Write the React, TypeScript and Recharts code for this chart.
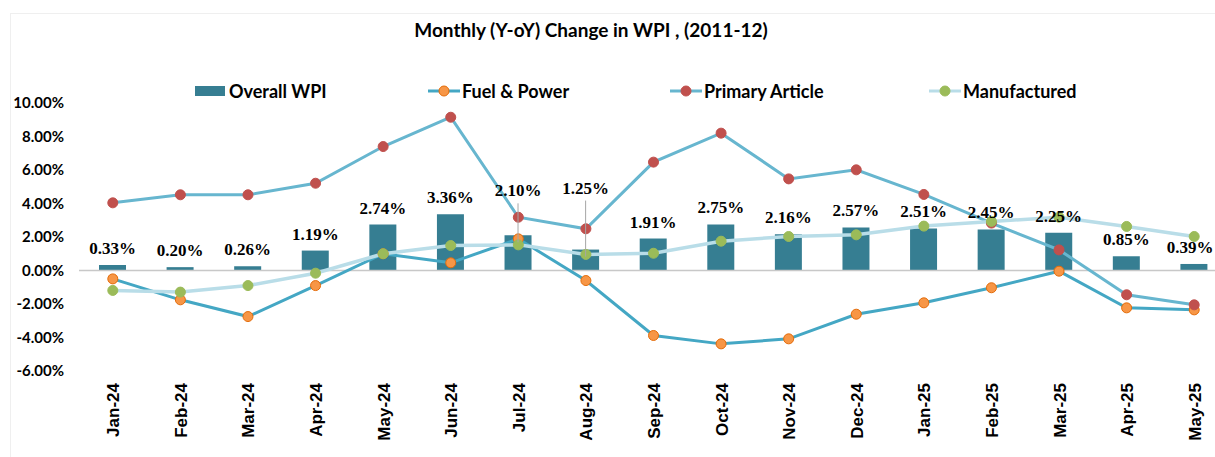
import { Bar, ComposedChart, LabelList, Line, ReferenceLine, XAxis, YAxis } from "recharts";

const months = [
    "Jan-24", "Feb-24", "Mar-24", "Apr-24", "May-24", "Jun-24", "Jul-24", "Aug-24", "Sep-24",
    "Oct-24", "Nov-24", "Dec-24", "Jan-25", "Feb-25", "Mar-25", "Apr-25", "May-25",
];
const overallWpi = [0.33, 0.20, 0.26, 1.19, 2.74, 3.36, 2.10, 1.25, 1.91, 2.75, 2.16, 2.57, 2.51, 2.45, 2.25, 0.85, 0.39];
const fuelPower = [-0.50, -1.75, -2.75, -0.90, 1.00, 0.46, 1.89, -0.60, -3.88, -4.38, -4.08, -2.61, -1.93, -1.03, -0.04, -2.23, -2.35];
const primaryArticle = [4.04, 4.52, 4.52, 5.21, 7.40, 9.15, 3.18, 2.49, 6.47, 8.20, 5.47, 6.01, 4.54, 2.83, 1.23, -1.45, -2.05];
const manufactured = [-1.19, -1.29, -0.90, -0.16, 1.00, 1.49, 1.53, 0.96, 1.03, 1.75, 2.03, 2.13, 2.65, 2.93, 3.18, 2.63, 2.03];
const yTicks = [-6, -4, -2, 0, 2, 4, 6, 8, 10];

const BAR_COLOR = "#367E92";
const FUEL_COLOR = "#44A7C4";
const PRIMARY_COLOR = "#67B6CF";
const MFG_COLOR = "#B9DDE8";

const SANS = "Lato, 'Noto Sans', sans-serif";
const VISIBLE_WIDTH = 1215;

const rows = months.map((month, i) => ({
    month,
    overall: overallWpi[i],
    fuel: fuelPower[i],
    primary: primaryArticle[i],
    mfg: manufactured[i],
}));

// a couple of labels in the original are pulled up with a leader line
const labelLift: Record<number, number> = { 6: 28, 7: 45 };

const WpiLabel = (props: any) => {
    const { x, y, width, value, index } = props;
    const cx = Number(x) + Number(width) / 2;
    const top = Number(y);
    const lift = labelLift[index] ?? 0;
    const base = top - 11 - lift;
    // keep the last label inside the visible area
    const tx = Math.min(cx, VISIBLE_WIDTH - 25);
    return <g>
        {lift > 0 && <line x1={cx} x2={cx} y1={base + 7} y2={top + 7} stroke="#A6A6A6" strokeWidth={1} />}
        <text x={tx} y={base} textAnchor="middle" fontFamily="'Liberation Serif', serif" fontWeight="bold" fontSize={17} fill="#000">
            {Number(value).toFixed(2)}%
        </text>
    </g>;
};

const MonthTick = (props: any) => {
    const { x, y, payload } = props;
    return <g transform={`translate(${x + 1},${y + 12}) rotate(-90)`}>
        <text x={0} y={0} textAnchor="end" dominantBaseline="central" fontFamily="'Liberation Sans', Arial, sans-serif" fontWeight="bold" fontSize={17} fill="#000">
            {payload.value}
        </text>
    </g>;
};

const legendItems = [
    { name: "Overall WPI", kind: "bar", color: BAR_COLOR, left: 195, textLeft: 229 },
    { name: "Fuel & Power", kind: "line", color: FUEL_COLOR, marker: "#F79646", markerStroke: "#E46C0A", left: 428, textLeft: 462 },
    { name: "Primary Article", kind: "line", color: PRIMARY_COLOR, marker: "#C0504D", markerStroke: "#C0504D", left: 670, textLeft: 704 },
    { name: "Manufactured", kind: "line", color: MFG_COLOR, marker: "#9BBB59", markerStroke: "#9BBB59", left: 929, textLeft: 963 },
];

const ChartLegend = () => <div style={{ position: "absolute", top: 80, left: 0, width: VISIBLE_WIDTH, height: 24 }}>
    {legendItems.map((item) => <div key={item.name}>
        {item.kind === "bar"
            ? <div style={{ position: "absolute", left: item.left, top: 6, width: 30, height: 10, background: item.color }} />
            : <svg style={{ position: "absolute", left: item.left, top: 0 }} width={32} height={22}>
                <line x1={0} x2={32} y1={11} y2={11} stroke={item.color} strokeWidth={3} />
                <circle cx={16} cy={11} r={5} fill={item.marker} stroke={item.markerStroke} strokeWidth={1} />
            </svg>}
        <div style={{ position: "absolute", left: item.textLeft, top: 0, fontFamily: SANS, fontWeight: 700, fontSize: 18, lineHeight: "22px", color: "#000", whiteSpace: "nowrap" }}>
            {item.name}
        </div>
    </div>)}
</div>;

const dot = (fill: string, stroke: string) => ({ r: 5, fill, stroke, strokeWidth: 1 });

const App = () => {
    return <div style={{ position: "absolute", left: 0, top: 0, width: VISIBLE_WIDTH, height: 457, overflow: "hidden", background: "#fff" }}>
        <div style={{ position: "absolute", left: 10, top: 13, width: 1300, height: 500, borderLeft: "1px solid #EFEFEF", borderTop: "1px solid #EFEFEF" }} />
        <div style={{ position: "absolute", top: 18, left: 0, width: 1182, textAlign: "center", fontFamily: SANS, fontWeight: 700, fontSize: 19, color: "#000" }}>
            Monthly (Y-oY) Change in WPI , (2011-12)
        </div>
        <ChartLegend />
        <div style={{ position: "absolute", left: 0, top: 0 }}>
            <ComposedChart width={1240} height={457} data={rows} margin={{ top: 103, right: 12, bottom: 0, left: 0 }}>
                <XAxis dataKey="month" height={86} interval={0} axisLine={false} tickLine={false} tickSize={0} tickMargin={0} tick={<MonthTick />} />
                <YAxis
                    width={79}
                    domain={[-6, 10]}
                    ticks={yTicks}
                    allowDataOverflow
                    axisLine={false}
                    tickLine={false}
                    tickSize={0}
                    tickMargin={15}
                    tickFormatter={(v: number) => `${v.toFixed(2)}%`}
                    tick={{ fontFamily: SANS, fontWeight: 700, fontSize: 15, fill: "#000" }}
                />
                <ReferenceLine y={0} stroke="#C8C8C8" strokeWidth={1.5} />
                <Bar dataKey="overall" name="Overall WPI" fill={BAR_COLOR} barSize={27} isAnimationActive={false}>
                    <LabelList dataKey="overall" content={WpiLabel} />
                </Bar>
                <Line dataKey="fuel" name="Fuel & Power" stroke={FUEL_COLOR} strokeWidth={3} dot={dot("#F79646", "#E46C0A")} activeDot={false} isAnimationActive={false} />
                <Line dataKey="primary" name="Primary Article" stroke={PRIMARY_COLOR} strokeWidth={3} dot={dot("#C0504D", "#C0504D")} activeDot={false} isAnimationActive={false} />
                <Line dataKey="mfg" name="Manufactured" stroke={MFG_COLOR} strokeWidth={3.5} dot={dot("#9BBB59", "#9BBB59")} activeDot={false} isAnimationActive={false} />
            </ComposedChart>
        </div>
    </div>;
};

export default App;
